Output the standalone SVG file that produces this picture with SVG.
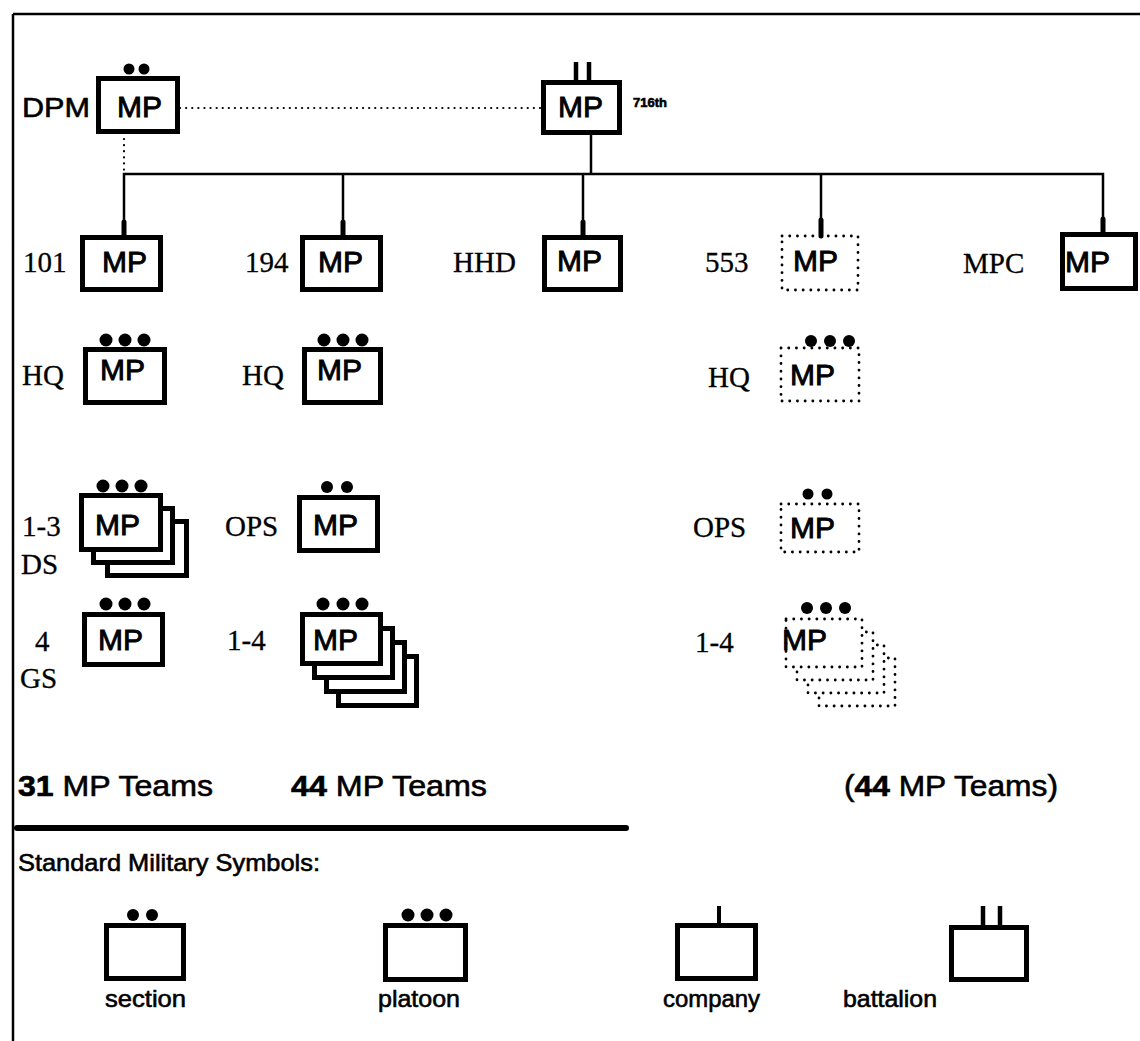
<svg xmlns="http://www.w3.org/2000/svg" width="1140" height="1041" viewBox="0 0 1140 1041">
<style>
.box{fill:#fff;stroke:#000;stroke-width:5}
.dbox{fill:#fff;stroke:#000;stroke-width:2.8;stroke-dasharray:0.1 7.6;stroke-linecap:round}
.mp{font-family:"Liberation Sans",Arial,sans-serif;font-size:30px;fill:#000;stroke:#000;stroke-width:0.9}
.lbl{font-family:"Liberation Serif","Times New Roman",serif;font-size:29px;fill:#000;stroke:#000;stroke-width:0.3}
.sans{font-family:"Liberation Sans",Arial,sans-serif;fill:#000;stroke:#000;stroke-width:0.6}
.ln{stroke:#000;stroke-width:2.5;fill:none}
.dl{stroke:#000;stroke-width:2.2;fill:none;stroke-dasharray:0.1 6;stroke-linecap:round}
.tick{stroke:#000;stroke-width:5;stroke-linecap:round}
.bt{stroke:#000;stroke-width:4.5}
</style>
<rect width="1140" height="1041" fill="#fff"/>
<g id="frame">
<line x1="13" y1="14" x2="1140" y2="14" class="ln"/>
<line x1="13" y1="14" x2="13" y2="1041" class="ln"/>
</g>
<g id="connectors">
<line x1="180" y1="108" x2="541" y2="108" class="dl"/>
<line x1="124" y1="139" x2="124" y2="172" class="dl"/>
<line x1="591" y1="135" x2="591" y2="174" class="ln"/>
<polyline points="124,235 124,174 1103,174 1103,232" class="ln"/>
<line x1="343" y1="174" x2="343" y2="235" class="ln"/>
<line x1="583" y1="174" x2="583" y2="235" class="ln"/>
<line x1="821" y1="174" x2="821" y2="235" class="ln"/>
</g>
<g id="node-dpm">
<text x="22" y="117" class="sans" font-size="28" textLength="68" lengthAdjust="spacingAndGlyphs">DPM</text>
<circle cx="129" cy="69" r="5.5"/><circle cx="144" cy="69" r="5.5"/>
<rect x="98.5" y="78.5" width="79" height="53" class="box"/>
<text x="117" y="117" class="mp">MP</text>
</g>
<g id="node-716">
<line x1="576" y1="62" x2="576" y2="82" class="bt"/><line x1="589" y1="62" x2="589" y2="82" class="bt"/>
<rect x="543.5" y="82.5" width="76" height="50" class="box"/>
<text x="558" y="117" class="mp">MP</text>
<text x="633" y="107" class="sans" font-size="13" font-weight="bold" stroke-width="0.2">716th</text>
</g>
<g id="node-101">
<text x="23" y="272" class="lbl">101</text>
<rect x="82.5" y="237.5" width="78" height="52" class="box"/>
<line x1="124" y1="222" x2="124" y2="237" class="tick"/>
<text x="102" y="272" class="mp">MP</text>
</g>
<g id="node-194">
<text x="245" y="272" class="lbl">194</text>
<rect x="302.5" y="237.5" width="78" height="52" class="box"/>
<line x1="343" y1="222" x2="343" y2="237" class="tick"/>
<text x="318" y="272" class="mp">MP</text>
</g>
<g id="node-hhd">
<text x="453" y="272" class="lbl">HHD</text>
<rect x="544.5" y="237.5" width="76" height="52" class="box"/>
<line x1="583" y1="222" x2="583" y2="237" class="tick"/>
<text x="557" y="271" class="mp">MP</text>
</g>
<g id="node-553">
<text x="705" y="272" class="lbl">553</text>
<rect x="782" y="236" width="76" height="54" class="dbox"/>
<line x1="821" y1="220" x2="821" y2="236" class="tick"/>
<text x="793" y="271" class="mp">MP</text>
</g>
<g id="node-mpc">
<text x="963" y="273" class="lbl">MPC</text>
<rect x="1062.5" y="234.5" width="73" height="54" class="box"/>
<line x1="1103" y1="219" x2="1103" y2="234" class="tick"/>
<text x="1065" y="272" class="mp">MP</text>
</g>
<g id="node-hq-101">
<text x="22" y="385" class="lbl">HQ</text>
<circle cx="106" cy="340" r="6.5"/><circle cx="125" cy="340" r="6.5"/><circle cx="144" cy="340" r="6.5"/>
<rect x="85.5" y="349.5" width="79" height="53" class="box"/>
<text x="100" y="380" class="mp">MP</text>
</g>
<g id="node-hq-194">
<text x="242" y="385" class="lbl">HQ</text>
<circle cx="324" cy="340" r="6.5"/><circle cx="343" cy="340" r="6.5"/><circle cx="362" cy="340" r="6.5"/>
<rect x="304.5" y="349.5" width="76" height="53" class="box"/>
<text x="317" y="380" class="mp">MP</text>
</g>
<g id="node-hq-553">
<text x="708" y="387" class="lbl">HQ</text>
<circle cx="811" cy="341" r="6"/><circle cx="830" cy="341" r="6"/><circle cx="849" cy="341" r="6"/>
<rect x="781" y="348" width="78" height="53" class="dbox"/>
<text x="790" y="385" class="mp">MP</text>
</g>
<g id="node-ds">
<text x="22" y="536" class="lbl">1-3</text>
<text x="21" y="574" class="lbl">DS</text>
<rect x="107.5" y="521.5" width="79" height="54" class="box"/>
<rect x="93.5" y="508.5" width="79" height="54" class="box"/>
<circle cx="103" cy="486" r="6.5"/><circle cx="122" cy="486" r="6.5"/><circle cx="141" cy="486" r="6.5"/>
<rect x="81.5" y="495.5" width="79" height="54" class="box"/>
<text x="95" y="535" class="mp">MP</text>
</g>
<g id="node-ops-194">
<text x="225" y="536" class="lbl">OPS</text>
<circle cx="327" cy="487" r="6"/><circle cx="347" cy="487" r="6"/>
<rect x="299.5" y="497.5" width="78" height="53" class="box"/>
<text x="313" y="535" class="mp">MP</text>
</g>
<g id="node-ops-553">
<text x="693" y="537" class="lbl">OPS</text>
<circle cx="808" cy="494" r="5.5"/><circle cx="827" cy="494" r="5.5"/>
<rect x="781" y="504" width="78" height="48" class="dbox"/>
<text x="790" y="538" class="mp">MP</text>
</g>
<g id="node-gs">
<text x="35" y="651" class="lbl">4</text>
<text x="20" y="688" class="lbl">GS</text>
<circle cx="106" cy="604" r="6.5"/><circle cx="125" cy="604" r="6.5"/><circle cx="144" cy="604" r="6.5"/>
<rect x="84.5" y="614.5" width="78" height="50" class="box"/>
<text x="98" y="650" class="mp">MP</text>
</g>
<g id="node-14-194">
<text x="227" y="650" class="lbl">1-4</text>
<rect x="338.5" y="656.5" width="78" height="49" class="box"/>
<rect x="326.5" y="642.5" width="78" height="49" class="box"/>
<rect x="314.5" y="628.5" width="78" height="49" class="box"/>
<circle cx="323" cy="604" r="6.5"/><circle cx="343" cy="604" r="6.5"/><circle cx="362" cy="604" r="6.5"/>
<rect x="302.5" y="614.5" width="78" height="49" class="box"/>
<text x="313" y="650" class="mp">MP</text>
</g>
<g id="node-14-553">
<text x="695" y="652" class="lbl">1-4</text>
<rect x="819" y="658" width="76" height="48" class="dbox"/>
<rect x="808" y="645" width="76" height="48" class="dbox"/>
<rect x="797" y="632" width="76" height="48" class="dbox"/>
<circle cx="807" cy="608" r="6"/><circle cx="826" cy="608" r="6"/><circle cx="845" cy="608" r="6"/>
<rect x="786" y="619" width="76" height="48" class="dbox"/>
<text x="782" y="650" class="mp">MP</text>
</g>
<g id="totals">
<text x="18" y="796" class="sans" font-size="29" textLength="195" lengthAdjust="spacingAndGlyphs"><tspan font-weight="bold">31</tspan> MP Teams</text>
<text x="291" y="796" class="sans" font-size="29" textLength="196" lengthAdjust="spacingAndGlyphs"><tspan font-weight="bold">44</tspan> MP Teams</text>
<text x="844" y="796" class="sans" font-size="29" textLength="214" lengthAdjust="spacingAndGlyphs">(<tspan font-weight="bold">44</tspan> MP Teams)</text>
<line x1="17" y1="828" x2="626" y2="828" stroke="#000" stroke-width="6" stroke-linecap="round"/>
<text x="18" y="871" class="sans" font-size="24" textLength="302" lengthAdjust="spacingAndGlyphs">Standard Military Symbols:</text>
</g>
<g id="legend-section">
<circle cx="133" cy="915" r="6"/><circle cx="152" cy="915" r="6"/>
<rect x="106.5" y="925.5" width="77" height="53" class="box"/>
<text x="105" y="1007" class="sans" font-size="24" textLength="81" lengthAdjust="spacingAndGlyphs">section</text>
</g>
<g id="legend-platoon">
<circle cx="408" cy="915" r="6.5"/><circle cx="427" cy="915" r="6.5"/><circle cx="446" cy="915" r="6.5"/>
<rect x="385.5" y="925.5" width="80" height="54" class="box"/>
<text x="378" y="1007" class="sans" font-size="24" textLength="82" lengthAdjust="spacingAndGlyphs">platoon</text>
</g>
<g id="legend-company">
<line x1="719" y1="906" x2="719" y2="925" stroke="#000" stroke-width="4"/>
<rect x="677.5" y="925.5" width="78" height="53" class="box"/>
<text x="663" y="1007" class="sans" font-size="24" textLength="97" lengthAdjust="spacingAndGlyphs">company</text>
</g>
<g id="legend-battalion">
<line x1="983" y1="906" x2="983" y2="928" class="bt"/><line x1="1000" y1="906" x2="1000" y2="928" class="bt"/>
<rect x="951.5" y="927.5" width="75" height="52" class="box"/>
<text x="843" y="1007" class="sans" font-size="24" textLength="94" lengthAdjust="spacingAndGlyphs">battalion</text>
</g>
</svg>
